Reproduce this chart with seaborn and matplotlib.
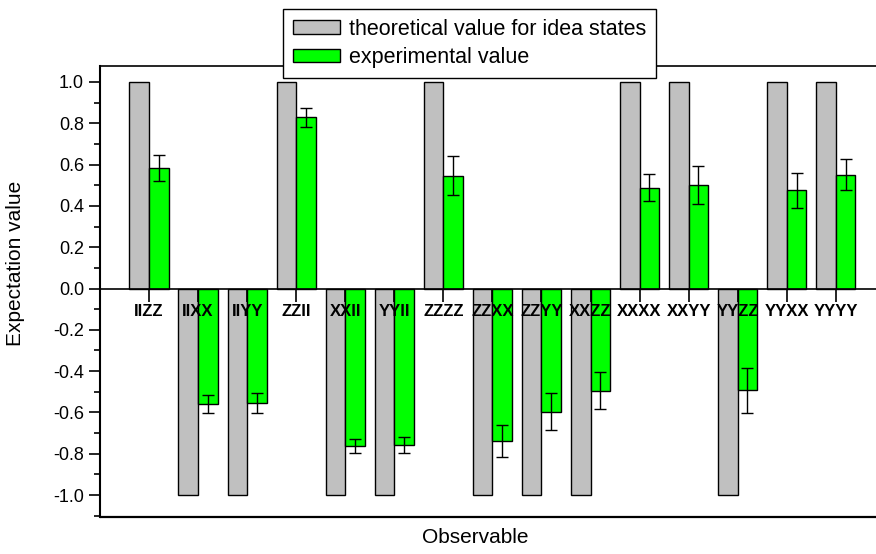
import numpy as np
import pandas as pd
import seaborn as sns
import matplotlib
matplotlib.use("Agg")
import matplotlib.pyplot as plt

# data
observables = ['IIZZ', 'IIXX', 'IIYY', 'ZZII', 'XXII', 'YYII', 'ZZZZ', 'ZZXX',
               'ZZYY', 'XXZZ', 'XXXX', 'XXYY', 'YYZZ', 'YYXX', 'YYYY']
theory = [1, -1, -1, 1, -1, -1, 1, -1, -1, -1, 1, 1, -1, 1, 1]
experiment = [0.583, -0.560, -0.554, 0.828, -0.763, -0.758, 0.546, -0.737,
              -0.596, -0.494, 0.488, 0.501, -0.493, 0.475, 0.551]
exp_err = [0.065, 0.043, 0.050, 0.045, 0.035, 0.037, 0.095, 0.078,
           0.088, 0.089, 0.065, 0.090, 0.110, 0.083, 0.075]
series = ['theoretical value for idea states', 'experimental value']

df = pd.DataFrame({
    'Observable': observables * 2,
    'value': theory + experiment,
    'series': [series[0]] * len(observables) + [series[1]] * len(observables),
})

sns.set_style('ticks')
plt.rcParams['font.family'] = ['Liberation Sans', 'DejaVu Sans']
for k in ['text.color', 'axes.labelcolor', 'xtick.color', 'ytick.color',
          'axes.edgecolor']:
    plt.rcParams[k] = 'black'

fig = plt.figure(figsize=(8.76, 5.54), dpi=100)
ax = fig.add_axes([100 / 876, 37 / 554, 776 / 876, 451 / 554])

sns.barplot(data=df, x='Observable', y='value', hue='series',
            palette=['#C0C0C0', '#00FF00'], saturation=1, edgecolor='black',
            linewidth=1, width=0.8, gap=0, errorbar=None, ax=ax)
for bars in ax.containers:
    for p in bars:
        p.set_zorder(1)

# error bars on the experimental bars
green = ax.containers[1]
xs = [p.get_x() + p.get_width() / 2 for p in green]
ax.errorbar(xs, experiment, yerr=exp_err, fmt='none', ecolor='black',
            elinewidth=1, capsize=4.5, capthick=1, zorder=3)

ax.set_xlim(-1, 14.82)
ax.set_ylim(-1.106, 1.077)
yt = np.round(np.arange(-1.0, 1.01, 0.2), 1)
ax.set_yticks(yt)
ax.set_yticklabels([f'{v:.1f}' if v != 0 else '0.0' for v in yt])
ax.set_yticks(np.arange(-1.1, 1.05, 0.1), minor=True)
ax.tick_params(axis='y', which='major', direction='out', length=8, width=1.2,
               labelsize=13)
ax.tick_params(axis='y', which='minor', direction='out', length=4, width=1.2)

# x ticks sit on the zero line
ax.spines['bottom'].set_position(('data', 0))
ax.spines['bottom'].set_linewidth(1.2)
ax.tick_params(axis='x', direction='out', length=9, width=1.2, labelsize=12,
               pad=2)
for t in ax.get_xticklabels():
    t.set_fontweight('bold')
ax.xaxis.set_zorder(4)
ax.axhline(-1.106, color='black', linewidth=1.6, clip_on=False)
ax.spines['left'].set_linewidth(1.5)
ax.spines['top'].set_linewidth(1.2)
ax.spines['right'].set_visible(False)

ax.set_xlabel('')
ax.set_ylabel('Expectation value', fontsize=15)
ax.yaxis.set_label_coords(-0.097, 0.563)
ax.text(0.483, -0.045, 'Observable', transform=ax.transAxes, ha='center',
        va='center', fontsize=15)

handles, labels = ax.get_legend_handles_labels()
ax.legend(handles, labels, loc='upper left',
          bbox_to_anchor=(283 / 876, 1 - 9 / 554), bbox_transform=fig.transFigure,
          fontsize=15.5, frameon=True, fancybox=False, framealpha=1,
          edgecolor='black', handlelength=2.2, handleheight=0.6,
          handletextpad=0.4, borderpad=0.45, labelspacing=0.35, borderaxespad=0)

fig.savefig('out.png', dpi=100)
